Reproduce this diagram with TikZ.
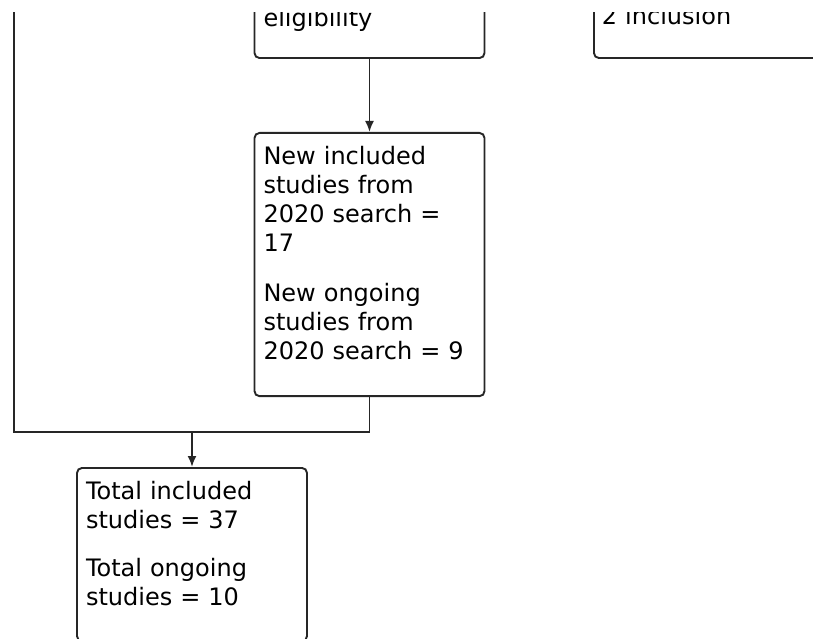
\documentclass[tikz,border=0pt]{standalone}
\usepackage{fontspec}
\setmainfont{DejaVu Sans}
\usepackage{tikz}
\usetikzlibrary{arrows.meta}

\tikzset{
    flowbox/.style={draw=black!85, line width=1.9pt, rounded corners=5pt,
        text width=212pt, inner xsep=9pt, inner ysep=13pt, align=left,
        font=\fontsize{24}{29}\selectfont},
    flowline/.style={draw=black!85, line width=1.9pt},
    flowarrow/.style={flowline, -{Latex[length=11pt,width=9pt]}}
}

\begin{document}
\begin{tikzpicture}[x=1pt, y=-1pt]
    \useasboundingbox (0,0) rectangle (813,639);
    \clip (0,13) rectangle (813,639);

    % Boxes cut off at the top
    \node[flowbox, anchor=south, text depth=19pt] (elig) at (369.5,59) {eligibility};
    \node[flowbox, anchor=south west, inner xsep=8pt, text depth=21pt] (incl) at (593,59) {2 inclusion};

    % New studies from the 2020 search
    \node[flowbox, anchor=north] (newstud) at (369.5,132)
        {New included\\ studies from\\ 2020 search =\\ 17\\[21pt]
         New ongoing\\ studies from\\ 2020 search = 9\\[-5pt]\mbox{}};

    % Totals
    \node[flowbox, anchor=north] (total) at (192,467)
        {Total included\\ studies = 37\\[19pt]
         Total ongoing\\ studies = 10\\[-6pt]\mbox{}};

    % Connectors
    \coordinate (ltop) at (14,0);
    \coordinate (join) at (192,432);
    \draw[flowarrow] (elig) -- (newstud);
    \draw[flowline] (ltop) |- (join) -| (newstud.south);
    \draw[flowarrow] (join) -- (total);
\end{tikzpicture}
\end{document}
